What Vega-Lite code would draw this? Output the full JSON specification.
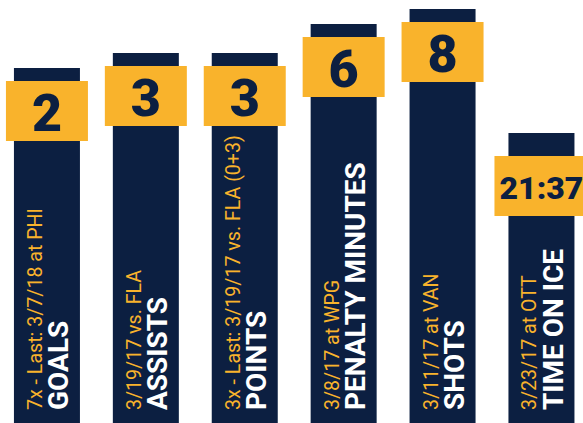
{
  "$schema": "https://vega.github.io/schema/vega-lite/v6.json",
  "width": 583,
  "height": 423,
  "autosize": {"type": "none"},
  "padding": 0,
  "background": "#ffffff",
  "config": {"view": {"stroke": null}},
  "data": {
    "values": [
      {"order": 1, "stat": "GOALS", "value": "2", "h": 355, "note": "7x - Last: 3/7/18 at PHI"},
      {"order": 2, "stat": "ASSISTS", "value": "3", "h": 370, "note": "3/19/17 vs. FLA"},
      {"order": 3, "stat": "POINTS", "value": "3", "h": 370, "note": "3x - Last: 3/19/17 vs. FLA (0+3)"},
      {"order": 4, "stat": "PENALTY MINUTES", "value": "6", "h": 399, "note": "3/8/17 at WPG"},
      {"order": 5, "stat": "SHOTS", "value": "8", "h": 414, "note": "3/11/17 at VAN"},
      {"order": 6, "stat": "TIME ON ICE", "value": "21:37", "h": 290, "note": "3/23/17 at OTT"}
    ]
  },
  "encoding": {
    "x": {
      "field": "stat",
      "type": "nominal",
      "sort": null,
      "axis": null,
      "scale": {"paddingInner": 0.3327, "paddingOuter": 0.1137, "align": 0.62}
    }
  },
  "layer": [
    {
      "mark": {"type": "bar", "color": "#0c1f41"},
      "encoding": {
        "y": {"field": "h", "type": "quantitative", "axis": null, "scale": {"domain": [0, 423], "nice": false, "zero": true}}
      }
    },
    {
      "transform": [{"filter": "datum.order < 6"}],
      "mark": {"type": "bar", "color": "#f9b32c", "width": {"band": 1.2424}, "yOffset": 13, "y2Offset": 73},
      "encoding": {
        "y": {"field": "h", "type": "quantitative"},
        "y2": {"field": "h"}
      }
    },
    {
      "transform": [{"filter": "datum.order == 6"}],
      "mark": {"type": "bar", "color": "#f9b32c", "width": {"band": 1.424}, "yOffset": 23, "y2Offset": 83},
      "encoding": {
        "y": {"field": "h", "type": "quantitative"},
        "y2": {"field": "h"}
      }
    },
    {
      "transform": [{"filter": "datum.order < 6"}],
      "mark": {"type": "text", "font": "Roboto", "fontWeight": 900, "fontSize": 52, "color": "#0c1f41", "baseline": "alphabetic", "align": "center", "dy": 63},
      "encoding": {
        "y": {"field": "h", "type": "quantitative"},
        "text": {"field": "value"}
      }
    },
    {
      "transform": [{"filter": "datum.order == 6"}],
      "mark": {"type": "text", "font": "Roboto", "fontWeight": 900, "fontSize": 32, "color": "#0c1f41", "baseline": "alphabetic", "align": "center", "dy": 65.5},
      "encoding": {
        "y": {"field": "h", "type": "quantitative"},
        "text": {"field": "value"}
      }
    },
    {
      "mark": {"type": "text", "font": "Roboto", "fontWeight": 400, "fontSize": 19.6, "color": "#f9b32c", "angle": 270, "align": "left", "baseline": "alphabetic", "dy": -5},
      "encoding": {
        "y": {"datum": 13, "type": "quantitative"},
        "text": {"field": "note"}
      }
    },
    {
      "mark": {"type": "text", "font": "Roboto", "fontWeight": 700, "fontSize": 28, "color": "#ffffff", "angle": 270, "align": "left", "baseline": "alphabetic", "dy": 21.5},
      "encoding": {
        "y": {"datum": 13, "type": "quantitative"},
        "text": {"field": "stat"}
      }
    }
  ]
}
